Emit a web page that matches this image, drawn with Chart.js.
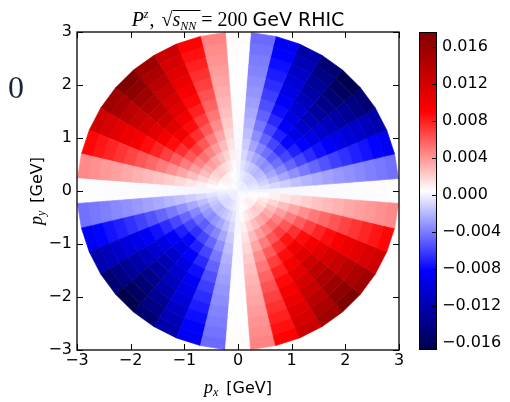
<!DOCTYPE html>
<html>
<head>
<meta charset="utf-8">
<script src="https://cdn.jsdelivr.net/npm/chart.js@4.4.0/dist/chart.umd.min.js"></script>
<style>
  html, body { margin: 0; padding: 0; background: #fff; }
  #wrap { position: relative; width: 510px; height: 402px; overflow: hidden; }
  #main { position: absolute; left: 0; top: 0; }
  #cbar { position: absolute; left: 405px; top: 0; }
</style>
</head>
<body>
<div id="wrap">
  <canvas id="main" width="405" height="402" style="width:405px;height:402px"></canvas>
  <canvas id="cbar" width="105" height="402" style="width:105px;height:402px"></canvas>
</div>
<script>
// p_T bin edges [GeV]
const rEdges = [0, 0.2, 0.4, 0.6, 0.8, 1.0, 1.2, 1.4, 1.6, 1.8, 2.0, 2.2, 2.4, 2.6, 2.8, 3.0];
// |P^z| along the diagonals, one per p_T bin
const radialAmp = [0.0003, 0.0010, 0.0022, 0.0037, 0.0053, 0.0069, 0.0084, 0.0098,
                   0.0111, 0.0123, 0.0134, 0.0145, 0.0155, 0.0166, 0.0176];
// azimuthal bin centres [deg]
const phiCenters = [0, 9, 18, 27, 36, 45, 54, 63, 72, 81,
                    90, 99, 108, 117, 126, 135, 144, 153, 162, 171,
                    180, 189, 198, 207, 216, 225, 234, 243, 252, 261,
                    270, 279, 288, 297, 306, 315, 324, 333, 342, 351];
// relative sign / size of P^z in each azimuthal bin
const phiShape = [0.02, -0.25, -0.49, -0.69, -0.85, -0.955, -0.85, -0.70, -0.50, -0.26,
                  0.03, 0.26, 0.51, 0.71, 0.88, 1.00, 0.88, 0.70, 0.50, 0.25,
                  0.02, -0.25, -0.49, -0.69, -0.85, -0.955, -0.85, -0.70, -0.50, -0.26,
                  0.03, 0.26, 0.51, 0.71, 0.88, 1.00, 0.88, 0.70, 0.50, 0.25];
const axisTicks = [-3, -2, -1, 0, 1, 2, 3];
const cbTicks = [-0.016, -0.012, -0.008, -0.004, 0, 0.004, 0.008, 0.012, 0.016];
const cbMin = -0.0168, cbMax = 0.0176;

// matplotlib "seismic"
const seismicStops = [[0, 0, 0, 77], [0.25, 0, 0, 255], [0.5, 255, 255, 255], [0.75, 255, 0, 0], [1, 128, 0, 0]];
function seismic(v) {
  let t = (v - cbMin) / (cbMax - cbMin);
  t = Math.max(0, Math.min(1, t));
  for (let k = 1; k < seismicStops.length; k++) {
    const a = seismicStops[k - 1], b = seismicStops[k];
    if (t <= b[0]) {
      const f = (t - a[0]) / (b[0] - a[0]);
      const c = [1, 2, 3].map(i => Math.round(a[i] + f * (b[i] - a[i])));
      return `rgb(${c[0]},${c[1]},${c[2]})`;
    }
  }
  return 'rgb(128,0,0)';
}

const minus = s => s.replace('-', '\u2212');
const tickFont = { family: 'DejaVu Sans', size: 16 };

// runs of text with own fonts, drawn left to right
function drawRuns(ctx, runs, cx, baseY) {
  let w = 0;
  runs.forEach(r => { ctx.font = r.font; r.w = ctx.measureText(r.t).width; w += r.w + (r.gap || 0); });
  let x = cx - w / 2;
  runs.forEach(r => {
    ctx.font = r.font;
    ctx.fillText(r.t, x, baseY + (r.dy || 0));
    if (r.bar) {
      ctx.fillRect(x, baseY - r.bar, r.barW || r.w, 1);
    }
    x += r.w + (r.gap || 0);
  });
  return w;
}

const polarCells = {
  id: 'polarCells',
  beforeDatasetsDraw(chart) {
    const { ctx, chartArea: a, scales: { x, y } } = chart;
    const half = (phiCenters[1] - phiCenters[0]) / 2;
    ctx.save();
    ctx.beginPath();
    ctx.rect(a.left, a.top, a.width, a.height);
    ctx.clip();
    for (let i = 0; i < radialAmp.length; i++) {
      for (let j = 0; j < phiCenters.length; j++) {
        const a0 = (phiCenters[j] - half) * Math.PI / 180;
        const a1 = (phiCenters[j] + half) * Math.PI / 180;
        const pts = [[rEdges[i], a0], [rEdges[i + 1], a0], [rEdges[i + 1], a1], [rEdges[i], a1]]
          .map(([r, t]) => [x.getPixelForValue(r * Math.cos(t)), y.getPixelForValue(r * Math.sin(t))]);
        const col = seismic(radialAmp[i] * phiShape[j]);
        ctx.beginPath();
        pts.forEach((p, k) => k ? ctx.lineTo(p[0], p[1]) : ctx.moveTo(p[0], p[1]));
        ctx.closePath();
        ctx.fillStyle = col;
        ctx.strokeStyle = col;
        ctx.lineWidth = 0.7;
        ctx.fill();
        ctx.stroke();
      }
    }
    ctx.restore();
  }
};

const frame = {
  id: 'frame',
  afterDraw(chart) {
    const { ctx, chartArea: a, scales: { x, y } } = chart;
    ctx.save();
    ctx.strokeStyle = '#000';
    ctx.lineWidth = 1.3;
    ctx.strokeRect(a.left, a.top, a.width, a.height);
    ctx.lineWidth = 1;
    ctx.beginPath();
    axisTicks.forEach(v => {
      const px = Math.round(x.getPixelForValue(v)) + 0.5;
      const py = Math.round(y.getPixelForValue(v)) + 0.5;
      ctx.moveTo(px, a.bottom); ctx.lineTo(px, a.bottom - 6);
      ctx.moveTo(px, a.top); ctx.lineTo(px, a.top + 6);
      ctx.moveTo(a.left, py); ctx.lineTo(a.left + 6, py);
      ctx.moveTo(a.right, py); ctx.lineTo(a.right - 6, py);
    });
    ctx.stroke();

    ctx.fillStyle = '#000';
    ctx.textAlign = 'left';
    ctx.textBaseline = 'alphabetic';
    const cx = (a.left + a.right) / 2;
    // title
    const serif = '"Liberation Serif"';
    drawRuns(ctx, [
      { t: 'P', font: `italic 20px ${serif}` },
      { t: 'z', font: `italic 12px ${serif}`, dy: -8, gap: 1 },
      { t: ', ', font: `20px ${serif}`, gap: 2 },
      { t: '\u221A', font: `20px ${serif}` },
      { t: 's', font: `italic 20px ${serif}`, bar: 16, barW: 28 },
      { t: 'NN', font: `italic 12px ${serif}`, dy: 4, gap: 5 },
      { t: '= 200 ', font: `20px ${serif}` },
      { t: 'GeV RHIC', font: `19px "DejaVu Sans"` }
    ], cx, 26);
    // x label
    drawRuns(ctx, [
      { t: 'p', font: `italic 18px ${serif}` },
      { t: 'x', font: `italic 12px ${serif}`, dy: 3, gap: 8 },
      { t: '[GeV]', font: `16px "DejaVu Sans"` }
    ], cx, 393);
    // y label
    ctx.save();
    ctx.translate(42, (a.top + a.bottom) / 2);
    ctx.rotate(-Math.PI / 2);
    drawRuns(ctx, [
      { t: 'p', font: `italic 18px ${serif}` },
      { t: 'y', font: `italic 12px ${serif}`, dy: 3, gap: 8 },
      { t: '[GeV]', font: `16px "DejaVu Sans"` }
    ], 0, 0);
    ctx.restore();
    // stray panel mark
    ctx.fillStyle = '#1c2438';
    ctx.font = `32px ${serif}`;
    ctx.fillText('0', 8, 98);
    ctx.restore();
  }
};

new Chart(document.getElementById('main'), {
  type: 'scatter',
  data: { datasets: [{ data: [], pointRadius: 0 }] },
  options: {
    responsive: false,
    animation: false,
    layout: { padding: { left: 0, top: 32, right: 6, bottom: 0 } },
    plugins: { legend: { display: false }, tooltip: { enabled: false } },
    scales: {
      x: {
        type: 'linear', min: -3, max: 3,
        afterBuildTicks: s => { s.ticks = axisTicks.map(v => ({ value: v })); },
        afterFit: s => { s.height = 52; s.paddingLeft = 0; s.paddingRight = 0; },
        grid: { display: false, drawTicks: false },
        border: { display: false },
        ticks: { font: tickFont, color: '#000', padding: 1, maxRotation: 0, callback: v => minus(String(v)) }
      },
      y: {
        type: 'linear', min: -3, max: 3,
        afterBuildTicks: s => { s.ticks = axisTicks.map(v => ({ value: v })); },
        afterFit: s => { s.width = 77; s.paddingTop = 0; s.paddingBottom = 0; },
        grid: { display: false, drawTicks: false },
        border: { display: false },
        ticks: { font: tickFont, color: '#000', padding: 5, callback: v => minus(String(v)) }
      }
    }
  },
  plugins: [polarCells, frame]
});

const cbTickMarks = {
  id: 'cbTickMarks',
  afterDraw(chart) {
    const { ctx, chartArea: a, scales: { y } } = chart;
    ctx.save();
    ctx.strokeStyle = '#000';
    ctx.lineWidth = 1;
    ctx.strokeRect(a.left + 0.5, a.top + 0.5, a.width - 1, a.height - 1);
    ctx.beginPath();
    cbTicks.forEach(v => {
      const py = Math.round(y.getPixelForValue(v)) + 0.5;
      ctx.moveTo(a.right, py); ctx.lineTo(a.right - 5, py);
    });
    ctx.stroke();
    ctx.restore();
  }
};

new Chart(document.getElementById('cbar'), {
  type: 'bar',
  data: {
    labels: ['P'],
    datasets: [{
      data: [[cbMin, cbMax]],
      backgroundColor: c => {
        const ch = c.chart;
        if (!ch.chartArea) return 'white';
        const ys = ch.scales.y;
        const g = ch.ctx.createLinearGradient(0, ys.getPixelForValue(cbMin), 0, ys.getPixelForValue(cbMax));
        seismicStops.forEach(s => g.addColorStop(s[0], `rgb(${s[1]},${s[2]},${s[3]})`));
        return g;
      },
      borderWidth: 0,
      barPercentage: 1,
      categoryPercentage: 1
    }]
  },
  options: {
    responsive: false,
    animation: false,
    layout: { padding: { left: 14, top: 32, right: 0, bottom: 52 } },
    plugins: { legend: { display: false }, tooltip: { enabled: false } },
    scales: {
      x: { display: false },
      y: {
        position: 'right', min: cbMin, max: cbMax,
        afterBuildTicks: s => { s.ticks = cbTicks.map(v => ({ value: v })); },
        afterFit: s => { s.width = 73; s.paddingTop = 0; s.paddingBottom = 0; },
        grid: { display: false, drawTicks: false },
        border: { display: false },
        ticks: { font: tickFont, color: '#000', padding: 5, callback: v => minus(v.toFixed(3)) }
      }
    }
  },
  plugins: [cbTickMarks]
});
</script>
</body>
</html>
